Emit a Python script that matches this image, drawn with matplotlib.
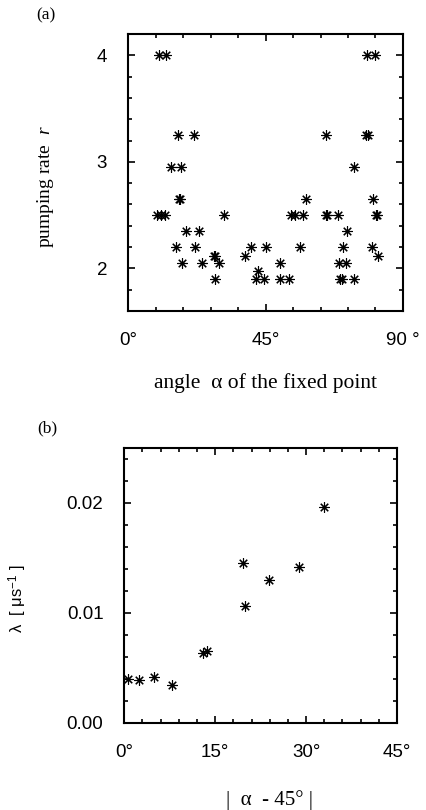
import matplotlib
matplotlib.use("Agg")
import matplotlib.pyplot as plt
from matplotlib.ticker import MultipleLocator

plt.rcParams["mathtext.fontset"] = "custom"
plt.rcParams["mathtext.rm"] = "Liberation Sans"
plt.rcParams["mathtext.it"] = "Liberation Serif:italic"

# ---- panel (a) data: angle alpha (deg) vs pumping rate r ----
alpha_a = [10.0, 12.5, 78.2, 80.9,
           16.2, 21.6, 64.8, 78.0, 78.4,
           14.0, 17.3, 74.0,
           16.7, 17.1, 58.2, 80.3,
           9.4, 10.7, 12.2, 31.3, 53.2, 54.6, 57.4, 64.7, 65.0, 68.6, 81.2, 81.6,
           19.0, 23.1, 71.6,
           15.8, 22.0, 40.3, 45.1, 56.4, 70.4, 80.0,
           28.2, 28.6, 38.2, 81.9,
           17.6, 24.3, 29.9, 49.9, 69.1, 71.5,
           42.6,
           28.4, 42.0, 44.5, 49.9, 52.8, 69.5, 69.9, 74.0]
rate_a = [4.0, 4.0, 4.0, 4.0,
          3.25, 3.25, 3.25, 3.25, 3.25,
          2.95, 2.95, 2.95,
          2.65, 2.65, 2.65, 2.65,
          2.5, 2.5, 2.5, 2.5, 2.5, 2.5, 2.5, 2.5, 2.5, 2.5, 2.5, 2.5,
          2.35, 2.35, 2.35,
          2.2, 2.2, 2.2, 2.2, 2.2, 2.2, 2.2,
          2.12, 2.12, 2.12, 2.12,
          2.05, 2.05, 2.05, 2.05, 2.05, 2.05,
          1.975,
          1.9, 1.9, 1.9, 1.9, 1.9, 1.9, 1.9, 1.9]

# ---- panel (b) data: |alpha - 45| vs lambda ----
dalpha_b = [0.66, 2.48, 4.96, 7.83, 13.05, 13.6, 19.56, 19.9, 23.8, 28.75, 32.9]
lambda_b = [0.00397, 0.00388, 0.00418, 0.00343, 0.0063, 0.00655,
            0.01455, 0.01064, 0.01297, 0.01412, 0.01958]

xticks_a = [0, 45, 90]
xticklabels_a = ["0°", "45°", "90 °"]
yticks_a = [2, 3, 4]
xticks_b = [0, 15, 30, 45]
xticklabels_b = ["0°", "15°", "30°", "45°"]
yticks_b = [0.0, 0.01, 0.02]
yticklabels_b = ["0.00", "0.01", "0.02"]

W, H = 427, 810
fig = plt.figure(figsize=(W / 100, H / 100), dpi=100)

SANS = "Liberation Sans"
SERIF = "Liberation Serif"
star = (8, 2, 0)


def box(l, t, r, b):
    return [l / W, 1 - b / H, (r - l) / W, (b - t) / H]


def style(ax):
    for s in ax.spines.values():
        s.set_linewidth(1.5)
    ax.tick_params(which="both", direction="in", top=True, right=True,
                   width=1.2, pad=15, labelsize=13.5)
    ax.tick_params(which="major", length=5)
    ax.tick_params(which="minor", length=2.8)
    for lab in ax.get_xticklabels() + ax.get_yticklabels():
        lab.set_fontfamily(SANS)


# panel (a)
axa = fig.add_axes(box(128, 34, 403, 311))
axa.plot(alpha_a, rate_a, linestyle="none", marker=star, markersize=7.5,
         markeredgewidth=0.8, color="black")
axa.set_xlim(0, 90)
axa.set_ylim(1.6, 4.2)
axa.set_xticks(xticks_a)
axa.set_xticklabels(xticklabels_a)
axa.xaxis.set_minor_locator(MultipleLocator(9))
axa.set_yticks(yticks_a)
axa.yaxis.set_minor_locator(MultipleLocator(0.2))
style(axa)

fig.text(36 / W, 1 - 15 / H, "(a)", family=SERIF, fontsize=12.5, ha="left", va="center")
fig.text(45 / W, 1 - 187 / H, "pumping rate  $\\mathit{r}$", family=SERIF, fontsize=14,
         rotation=90, ha="center", va="center")
fig.text(265 / W, 1 - 383 / H, "angle  α of the fixed point", family=SERIF, fontsize=15.5,
         ha="center", va="center")

# panel (b)
axb = fig.add_axes(box(124.3, 447.7, 397, 722.7))
axb.plot(dalpha_b, lambda_b, linestyle="none", marker=star, markersize=7.5,
         markeredgewidth=0.8, color="black")
axb.set_xlim(0, 45)
axb.set_ylim(0, 0.025)
axb.set_xticks(xticks_b)
axb.set_xticklabels(xticklabels_b)
axb.xaxis.set_minor_locator(MultipleLocator(3))
axb.set_yticks(yticks_b)
axb.set_yticklabels(yticklabels_b)
axb.yaxis.set_minor_locator(MultipleLocator(0.002))
style(axb)

fig.text(37 / W, 1 - 428 / H, "(b)", family=SERIF, fontsize=12.5, ha="left", va="center")
fig.text(18 / W, 1 - 599 / H, "λ  [ μs$^{\\mathrm{-1}}$ ]", family=SANS, fontsize=12,
         rotation=90, ha="center", va="center")
fig.text(270 / W, 1 - 800 / H, "|  α  - 45° |", family=SERIF, fontsize=15,
         ha="center", va="center")

fig.savefig("out.png", dpi=100)
